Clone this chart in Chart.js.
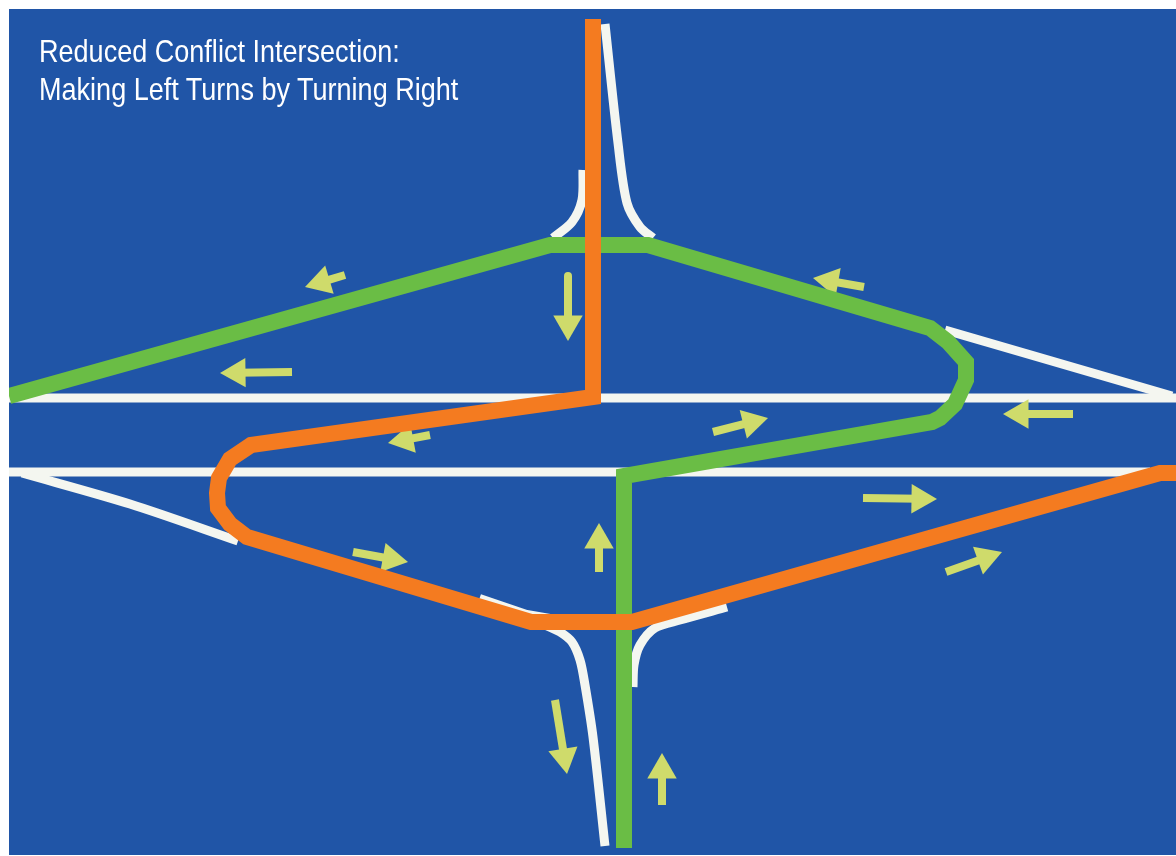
<!DOCTYPE html>
<html>
<head>
<meta charset="utf-8">
<title>Reduced Conflict Intersection</title>
<script src="https://cdn.jsdelivr.net/npm/chart.js@4"></script>
<style>
    html, body { margin: 0; padding: 0; background: #fff; }
    #wrap { position: absolute; left: 9px; top: 9px; width: 1167px; height: 846px; background: #2055a7; overflow: hidden; }
    #roadTitle { position: absolute; left: 30px; top: 23px; color: #fff; font: 32px/38px "Liberation Sans", sans-serif; white-space: nowrap; transform: scaleX(0.845); transform-origin: left top; }
</style>
</head>
<body>
<div id="wrap">
    <canvas id="roadChart" width="1167" height="846"></canvas>
    <div id="roadTitle">Reduced Conflict Intersection:<br>Making Left Turns by Turning Right</div>
</div>
<script>
// road edges
const edgeNorth = [[9, 398], [1176, 398]];
const edgeSouth = [[9, 472], [1150, 472]];
const edgeUpperRight = [[945, 330], [1172, 396]];
const edgeLowerLeft = [[22, 473], [130, 504], [238, 541]];
const rampTopRight = [[605, 24], [618, 143], [627, 203], [640, 227], [653, 238]];
const rampTopLeft = [[583, 170], [582, 200], [572, 222], [553, 238]];
const rampBottomLeftUpper = [[480, 597], [527, 613], [550, 617]];
const rampBottomLeft = [[545, 625], [560, 632], [572, 642], [580, 660], [585, 685], [593, 737], [605, 846]];
const rampBottomRight = [[633, 687], [634, 665], [640, 645], [655, 628], [680, 620], [727, 607]];

// the two drawn routes
const greenRoute = [[9, 396], [550, 245], [648, 245], [930, 328], [948, 342], [966, 362], [966, 380], [955, 404], [940, 418], [932, 422], [624, 476], [624, 848]];
const orangeRoute = [[593, 19], [593, 397], [251, 445], [230, 459], [219, 478], [217, 493], [218, 508], [230, 524], [247, 537], [531, 622], [632, 622], [1160, 473], [1176, 473]];

// direction arrows, tail then tip
const arrowTails = [[345, 275], [292, 372], [568, 276], [864, 287], [1073, 414], [713, 432], [430, 435], [863, 498], [946, 572], [353, 552], [599, 572], [555, 700], [662, 805]];
const arrowTips = [[305, 287], [220, 373], [568, 341], [813, 278], [1003, 414], [768, 418], [388, 443], [937, 499], [1002, 552], [408, 562], [599, 523], [567, 774], [662, 753]];

const ROAD_WHITE = '#f4f6f0';
const ARROW_COLOR = '#cfdb6b';
const datasets = [];

function toPoints(list) {
    return list.map(p => ({ x: p[0], y: p[1] }));
}

function addLine(list, color, width, tension) {
    datasets.push({
        data: toPoints(list),
        borderColor: color,
        borderWidth: width,
        borderJoinStyle: 'round',
        borderCapStyle: 'butt',
        tension: tension || 0,
        pointRadius: 0,
        showLine: true,
        order: 200 - datasets.length
    });
}

function addArrow(tail, tip) {
    const dx = tip[0] - tail[0], dy = tip[1] - tail[1];
    const len = Math.sqrt(dx * dx + dy * dy);
    const r = 17;
    const center = [tip[0] - dx / len * r, tip[1] - dy / len * r];
    addLine([tail, center], ARROW_COLOR, 8);
    datasets.push({
        data: toPoints([center]),
        showLine: false,
        pointStyle: 'triangle',
        pointRadius: r,
        pointRotation: Math.atan2(dx, -dy) * 180 / Math.PI,
        pointBackgroundColor: ARROW_COLOR,
        pointBorderWidth: 0,
        order: 200 - datasets.length
    });
}

function addRoute(list, color) {
    addLine(list, color, 16);
    datasets[datasets.length - 1].borderJoinStyle = 'miter';
}

[edgeNorth, edgeSouth, edgeUpperRight].forEach(e => addLine(e, ROAD_WHITE, 9));
addLine(edgeLowerLeft, ROAD_WHITE, 9, 0.3);
addLine(rampBottomLeftUpper, ROAD_WHITE, 6);
[rampTopRight, rampTopLeft, rampBottomLeft, rampBottomRight].forEach(e => addLine(e, ROAD_WHITE, 9, 0.3));
arrowTails.forEach((t, i) => addArrow(t, arrowTips[i]));
addRoute(greenRoute, '#6abd45');
addRoute(orangeRoute, '#f47b20');

new Chart(document.getElementById('roadChart'), {
    type: 'scatter',
    data: { datasets: datasets },
    options: {
        responsive: false,
        animation: false,
        layout: { padding: 0, autoPadding: false },
        plugins: { legend: { display: false }, tooltip: { enabled: false } },
        scales: {
            x: { type: 'linear', min: 9, max: 1176, display: false },
            y: { type: 'linear', min: 9, max: 855, reverse: true, display: false }
        }
    }
});
</script>
</body>
</html>
